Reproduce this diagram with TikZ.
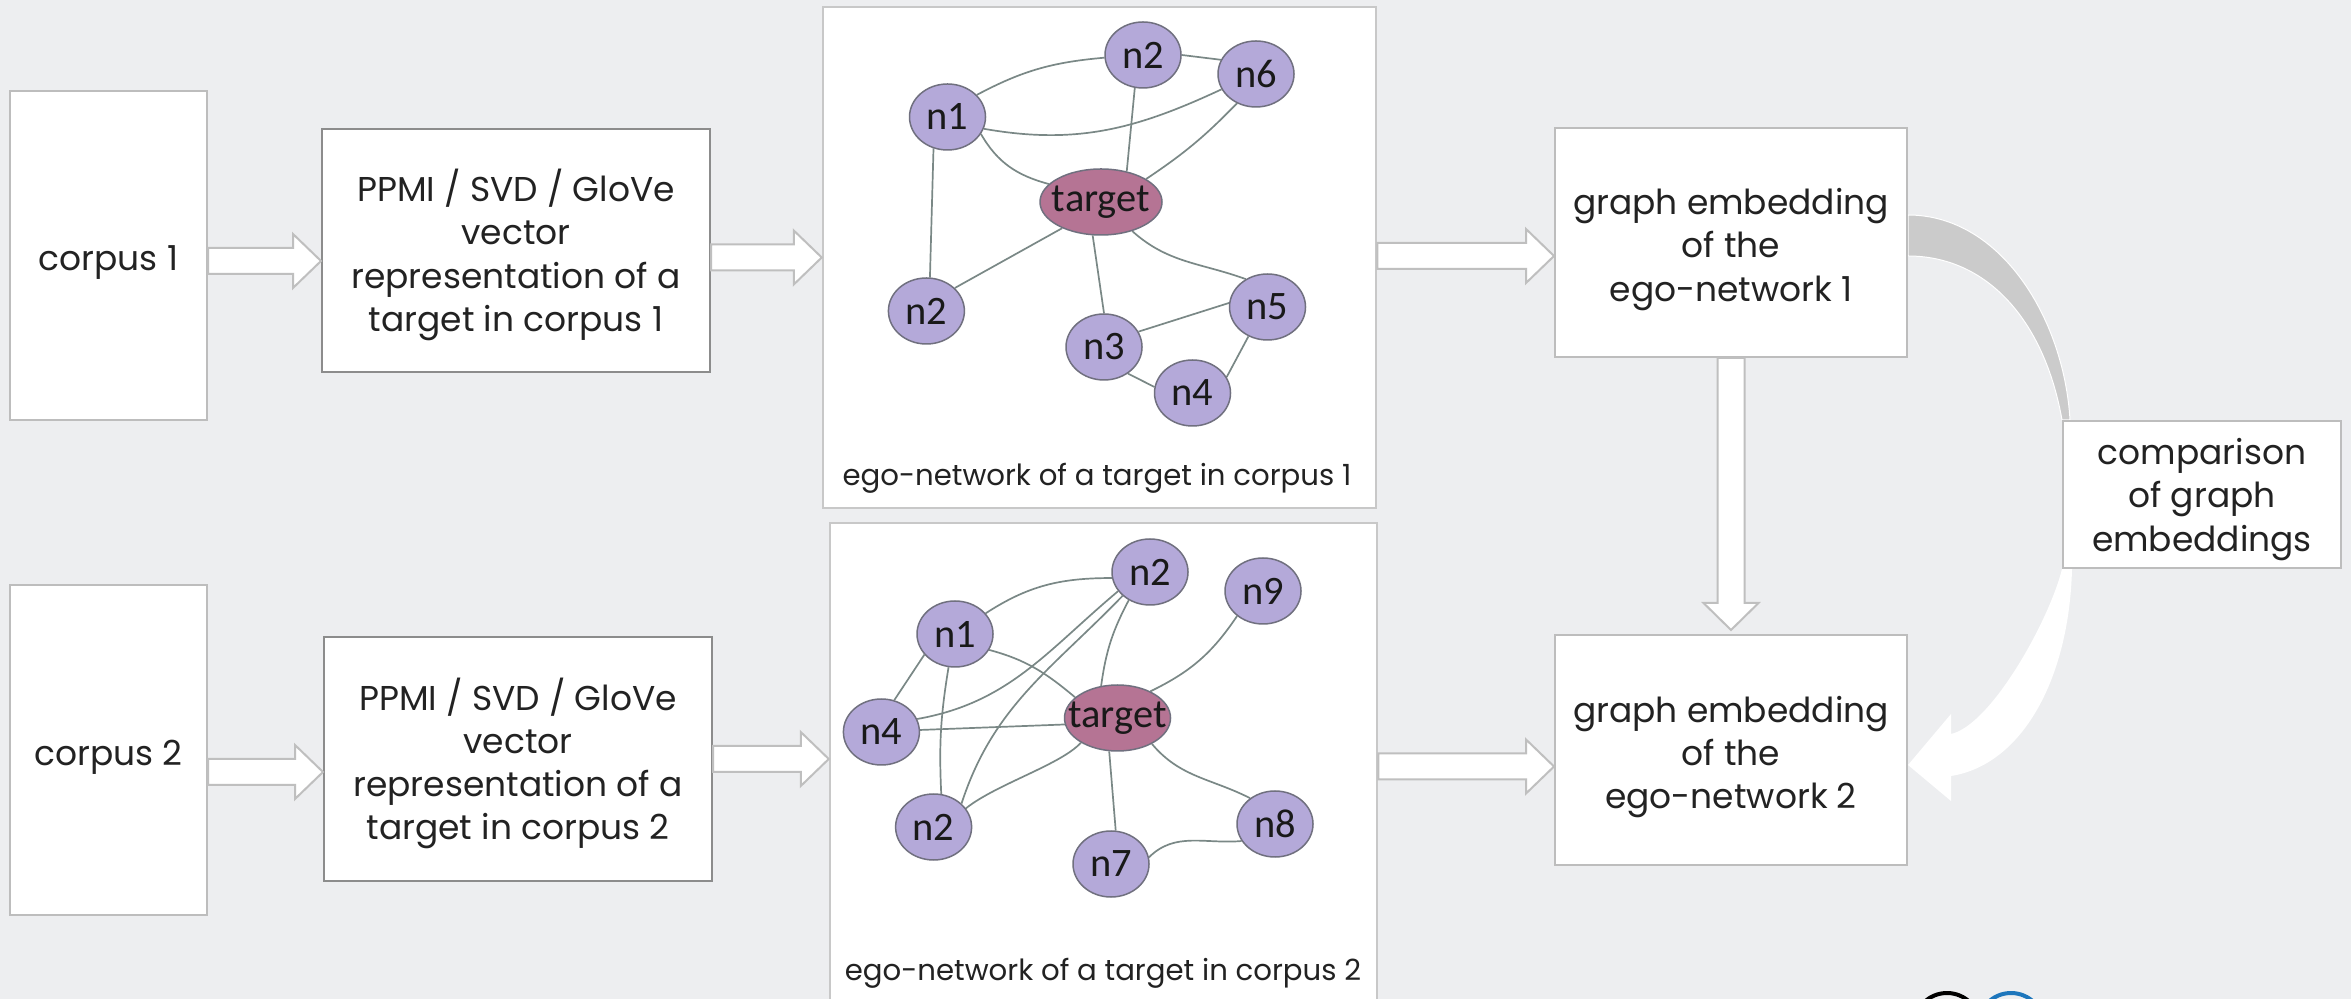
\documentclass[tikz,border=0pt]{standalone}
\usepackage{fontspec}
\setmainfont{Poppins}
\newfontfamily\labelfont{Carlito}
\usetikzlibrary{shapes.geometric,calc}
\pgfdeclarelayer{frames}
\pgfdeclarelayer{links}
\pgfsetlayers{frames,links,main}

\definecolor{pagebg}{HTML}{EDEEF0}
\definecolor{boxline}{HTML}{BDBDBD}
\definecolor{boxlinedark}{HTML}{8C8C8C}
\definecolor{frameline}{HTML}{C8C8C8}
\definecolor{arrowline}{HTML}{BFBFBF}
\definecolor{nodefill}{HTML}{B4A9D9}
\definecolor{nodeline}{HTML}{70707F}
\definecolor{targetfill}{HTML}{B57494}
\definecolor{linkcol}{HTML}{7A8886}
\definecolor{bandgrey}{HTML}{CBCBCB}
\definecolor{ccblue}{HTML}{1D76BC}
\definecolor{inktext}{HTML}{222222}

\tikzset{
  stagebox/.style={draw=boxline, line width=0.2mm, fill=white, inner sep=0pt},
  boxtext/.style={align=center, inner sep=0pt, text=inktext,
    font=\fontsize{9.8pt}{12.3pt}\selectfont},
  frame/.style={draw=frameline, line width=0.25mm, fill=white, inner sep=0pt},
  caption/.style={inner sep=0pt, text=inktext, font=\fontsize{8.3pt}{10pt}\selectfont},
  gnode/.style={ellipse, draw=nodeline, line width=0.15mm, fill=nodefill,
    minimum width=7.6mm, minimum height=6.6mm, inner sep=0pt, text=black!90,
    font=\labelfont\fontsize{11.5pt}{14pt}\selectfont},
  % the centre node keeps its fixed size although its word is wide
  tnode/.style={gnode, fill=targetfill, inner xsep=-3mm, inner ysep=-1.2mm,
    minimum height=6.6mm},
  link/.style={draw=linkcol, line width=0.17mm},
  blockarrow/.style={draw=arrowline, line width=0.2mm, fill=white, line join=miter},
}

% hollow block arrow pointing right; height taken from the start point
\newcommand{\rightblock}[2]{%
  \draw[blockarrow] let \p1=(#1), \p2=(#2) in
    (\x1,\y1+1.3mm) -- (\x2-2.8mm,\y1+1.3mm) -- (\x2-2.8mm,\y1+2.7mm)
    -- (\x2,\y1) -- (\x2-2.8mm,\y1-2.7mm) -- (\x2-2.8mm,\y1-1.3mm)
    -- (\x1,\y1-1.3mm) -- cycle;}
% hollow block arrow pointing down
\newcommand{\downblock}[2]{%
  \draw[blockarrow] let \p1=(#1), \p2=(#2) in
    (\x1-1.35mm,\y1) -- (\x1-1.35mm,\y2+2.7mm) -- (\x1-2.75mm,\y2+2.7mm)
    -- (\x1,\y2) -- (\x1+2.75mm,\y2+2.7mm) -- (\x1+1.35mm,\y2+2.7mm)
    -- (\x1+1.35mm,\y1) -- cycle;}

\begin{document}
\begin{tikzpicture}[x=0.1mm,y=-0.1mm]
\useasboundingbox (0,0) rectangle (2351,999);

% page and the two network panels
\begin{pgfonlayer}{frames}
  \fill[pagebg] (0,0) rectangle (2351,999);
  \node[frame, minimum width=55.3mm, minimum height=50.1mm] (g1) at (1099.5,257.5) {};
  \node[frame, minimum width=54.7mm, minimum height=49.2mm] (g2) at (1103.5,769) {};
\end{pgfonlayer}

% pipeline boxes
\node[stagebox, minimum width=19.7mm, minimum height=32.9mm] (c1) at (108.5,255.5) {};
\node[stagebox, minimum width=19.7mm, minimum height=33mm] (c2) at (108.5,750) {};
\node[stagebox, draw=boxlinedark, minimum width=38.8mm, minimum height=24.3mm] (p1) at (516,250.5) {};
\node[stagebox, draw=boxlinedark, minimum width=38.8mm, minimum height=24.4mm] (p2) at (518,759) {};
\node[stagebox, minimum width=35.2mm, minimum height=22.9mm] (ge1) at (1731,242.5) {};
\node[stagebox, minimum width=35.2mm, minimum height=23mm] (ge2) at (1731,750) {};
\node[stagebox, minimum width=27.8mm, minimum height=14.7mm] (cmp) at (2202,494.5) {};

% box texts, set slightly below the box centres
\node[boxtext] (c1t) at ([yshift=-0.7mm]c1.center) {corpus 1};
\node[boxtext] (c2t) at ([yshift=-0.7mm]c2.center) {corpus 2};
\node[boxtext] (p1t) at ([yshift=-0.45mm]p1.center)
  {PPMI / SVD / GloVe\\vector\\representation of a\\target in corpus 1};
\node[boxtext] (p2t) at ([yshift=-0.45mm]p2.center)
  {PPMI / SVD / GloVe\\vector\\representation of a\\target in corpus 2};
\node[boxtext] (ge1t) at ([yshift=-0.7mm]ge1.center) {graph embedding\\of the\\ego-network 1};
\node[boxtext] (ge2t) at ([yshift=-0.7mm]ge2.center) {graph embedding\\of the\\ego-network 2};
\node[boxtext] (cmpt) at ([yshift=-0.5mm]cmp.center) {comparison\\of graph\\embeddings};

% ego-network of corpus 1
\node[gnode] (a2t) at (1143,55) {n2};
\node[gnode] (a6) at (1256,74) {n6};
\node[gnode] (a1) at (947.5,117) {n1};
\node[tnode, minimum width=12.2mm] (at) at (1101,202) {target};
\node[gnode] (a2l) at (926.4,311) {n2};
\node[gnode] (a3) at (1104,347) {n3};
\node[gnode] (a5) at (1267.5,307) {n5};
\node[gnode] (a4) at (1192.5,393) {n4};
\node[caption] (cap1) at (1097,478) {ego-network of a target in corpus 1};

% ego-network of corpus 2
\node[gnode] (b2t) at (1150,572) {n2};
\node[gnode] (b9) at (1263,591) {n9};
\node[gnode] (b1) at (955,634) {n1};
\node[gnode] (b4) at (881.4,732) {n4};
\node[tnode, minimum width=10.6mm] (bt) at (1117.5,718) {target};
\node[gnode] (b2l) at (933.6,827) {n2};
\node[gnode] (b7) at (1111,864) {n7};
\node[gnode] (b8) at (1275,824) {n8};
\node[caption] (cap2) at (1103,973) {ego-network of a target in corpus 2};

\begin{pgfonlayer}{links}
  % edges, network 1
  \draw[link] (a1.37) to[out=28,in=185] (a2t.184);
  \draw[link] (a1.-18) to[out=-10,in=205] (a6.204);
  \draw[link] (a2t.0) -- (a6.158);
  \draw[link] (a1.-27) to[out=-60,in=165] (at.161);
  \draw[link] (a2t.-104) -- (at.50);
  \draw[link] (a6.-123) to[bend left=6] (at.27);
  \draw[link] (a1.-114) -- (a2l.84);
  \draw[link] (at.-146) -- (a2l.39);
  \draw[link] (at.-104) -- (a3.90);
  \draw[link] (at.-43) to[out=-42,in=160] (a5.128);
  \draw[link] (a3.24) -- (a5.174);
  \draw[link] (a3.-48) -- (a4.171);
  \draw[link] (a5.-123) -- (a4.25);

  % edges, network 2
  \draw[link] (b1.34) to[out=33,in=180] (b2t.189);
  \draw[link] (b1.-146) -- (b4.68);
  \draw[link] (b1.-25) to[out=-15,in=140] (bt.154);
  \draw[link] (b1.-101) to[bend right=6] (b2l.77);
  \draw[link] (b4.20) to[out=10,in=-140] (b2t.-149);
  \draw[link] (b2l.40) to[out=72,in=-134] (b2t.-139);
  \draw[link] (b4.3) -- (bt.187);
  \draw[link] (b2t.-127) to[bend right=10] (bt.117);
  \draw[link] (b9.-136) to[bend left=15] (bt.39);
  \draw[link] (bt.-146) .. controls +(-20,22) and +(30,-24) .. (b2l.30);
  \draw[link] (bt.-104) -- (b7.82);
  \draw[link] (bt.-37) to[out=-50,in=153] (b8.134);
  \draw[link] (b7.10) to[out=45,in=185] (b8.207);

  % curved arrow through the comparison step
  \fill[bandgrey, draw=white, line width=0.1mm]
    ([yshift=2.75mm]ge1.east) .. controls +(93,0) and +(-6,-101) .. ([xshift=0.8mm]cmp.north west)
    -- (cmp.north west) .. controls +(-18,-101) and +(78,0) .. ([yshift=-1.35mm]ge1.east) -- cycle;
  \fill[white]
    (cmp.south west) .. controls +(-13,52) and +(40,-9) .. ($(ge2.east)+(43,-16)$)
    -- ($(ge2.east)+(43,-36)$) -- ($(ge2.east)+(0,15)$) -- ($(ge2.east)+(43,51)$)
    -- ($(ge2.east)+(43,26)$) .. controls +(70,-11) and +(-3,112) .. ([xshift=1mm]cmp.south west) -- cycle;
\end{pgfonlayer}

% block arrows between the stages
\rightblock{[yshift=-0.55mm]c1.east}{p1.west}
\rightblock{[yshift=-0.7mm]p1.east}{g1.west}
\rightblock{[yshift=0.15mm]g1.east}{ge1.west}
\rightblock{[yshift=-2.2mm]c2.east}{p2.west}
\rightblock{p2.east}{g2.west}
\rightblock{[yshift=0.25mm]g2.east}{ge2.west}
\downblock{ge1.south}{[yshift=0.4mm]ge2.north}

% licence badge rings at the lower edge
\draw[black, line width=0.4mm] (1947,1026) circle[radius=3.3mm];
\draw[ccblue, line width=0.4mm] (2011,1026) circle[radius=3.3mm];
\end{tikzpicture}
\end{document}
